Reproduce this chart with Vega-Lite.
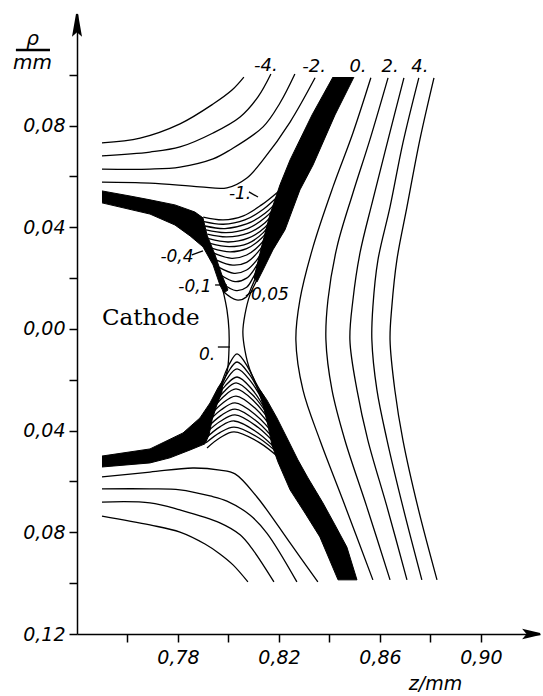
{
"$schema": "https://vega.github.io/schema/vega-lite/v6.json",
"width": 463, "height": 620,
"autosize": {"type": "none"},
"padding": {"left": 77, "top": 14, "right": 3, "bottom": 62},
"background": "white",
"config": {"view": {"stroke": null}},
"datasets": {
"bands": [
{"id":"b1","i":0,"z":0.7499,"rho":0.0543},{"id":"b1","i":1,"z":0.7610,"rho":0.0523},{"id":"b1","i":2,"z":0.7689,"rho":0.0508},{"id":"b1","i":3,"z":0.7788,"rho":0.0488},{"id":"b1","i":4,"z":0.7867,"rho":0.0460},{"id":"b1","i":5,"z":0.7899,"rho":0.0437},{"id":"b1","i":6,"z":0.7915,"rho":0.0370},{"id":"b1","i":7,"z":0.7947,"rho":0.0291},{"id":"b1","i":8,"z":0.7974,"rho":0.0212},{"id":"b1","i":9,"z":0.7998,"rho":0.0153},{"id":"b1","i":10,"z":0.7982,"rho":0.0142},{"id":"b1","i":11,"z":0.7966,"rho":0.0173},{"id":"b1","i":12,"z":0.7939,"rho":0.0252},{"id":"b1","i":13,"z":0.7899,"rho":0.0323},{"id":"b1","i":14,"z":0.7848,"rho":0.0366},{"id":"b1","i":15,"z":0.7788,"rho":0.0409},{"id":"b1","i":16,"z":0.7689,"rho":0.0452},{"id":"b1","i":17,"z":0.7499,"rho":0.0496},
{"id":"b2","i":0,"z":0.8414,"rho":0.0991},{"id":"b2","i":1,"z":0.8331,"rho":0.0842},{"id":"b2","i":2,"z":0.8244,"rho":0.0665},{"id":"b2","i":3,"z":0.8204,"rho":0.0567},{"id":"b2","i":4,"z":0.8164,"rho":0.0449},{"id":"b2","i":5,"z":0.8133,"rho":0.0331},{"id":"b2","i":6,"z":0.8101,"rho":0.0201},{"id":"b2","i":7,"z":0.8113,"rho":0.0185},{"id":"b2","i":8,"z":0.8137,"rho":0.0232},{"id":"b2","i":9,"z":0.8176,"rho":0.0311},{"id":"b2","i":10,"z":0.8224,"rho":0.0390},{"id":"b2","i":11,"z":0.8283,"rho":0.0547},{"id":"b2","i":12,"z":0.8335,"rho":0.0645},{"id":"b2","i":13,"z":0.8422,"rho":0.0842},{"id":"b2","i":14,"z":0.8497,"rho":0.0991},
{"id":"b3","i":0,"z":0.7499,"rho":-0.0500},{"id":"b3","i":1,"z":0.7689,"rho":-0.0472},{"id":"b3","i":2,"z":0.7820,"rho":-0.0409},{"id":"b3","i":3,"z":0.7887,"rho":-0.0350},{"id":"b3","i":4,"z":0.7927,"rho":-0.0291},{"id":"b3","i":5,"z":0.7958,"rho":-0.0232},{"id":"b3","i":6,"z":0.7978,"rho":-0.0201},{"id":"b3","i":7,"z":0.7974,"rho":-0.0248},{"id":"b3","i":8,"z":0.7954,"rho":-0.0299},{"id":"b3","i":9,"z":0.7935,"rho":-0.0358},{"id":"b3","i":10,"z":0.7923,"rho":-0.0417},{"id":"b3","i":11,"z":0.7907,"rho":-0.0452},{"id":"b3","i":12,"z":0.7848,"rho":-0.0476},{"id":"b3","i":13,"z":0.7768,"rho":-0.0507},{"id":"b3","i":14,"z":0.7689,"rho":-0.0527},{"id":"b3","i":15,"z":0.7499,"rho":-0.0543},
{"id":"b4","i":0,"z":0.8117,"rho":-0.0240},{"id":"b4","i":1,"z":0.8137,"rho":-0.0299},{"id":"b4","i":2,"z":0.8156,"rho":-0.0378},{"id":"b4","i":3,"z":0.8172,"rho":-0.0456},{"id":"b4","i":4,"z":0.8196,"rho":-0.0523},{"id":"b4","i":5,"z":0.8244,"rho":-0.0633},{"id":"b4","i":6,"z":0.8303,"rho":-0.0724},{"id":"b4","i":7,"z":0.8362,"rho":-0.0818},{"id":"b4","i":8,"z":0.8434,"rho":-0.0987},{"id":"b4","i":9,"z":0.8509,"rho":-0.0987},{"id":"b4","i":10,"z":0.8469,"rho":-0.0858},{"id":"b4","i":11,"z":0.8422,"rho":-0.0771},{"id":"b4","i":12,"z":0.8374,"rho":-0.0684},{"id":"b4","i":13,"z":0.8315,"rho":-0.0586},{"id":"b4","i":14,"z":0.8275,"rho":-0.0515},{"id":"b4","i":15,"z":0.8236,"rho":-0.0437},{"id":"b4","i":16,"z":0.8192,"rho":-0.0350},{"id":"b4","i":17,"z":0.8152,"rho":-0.0279},{"id":"b4","i":18,"z":0.8125,"rho":-0.0240}
],
"arrows": [
{"id":"a1","i":0,"z":0.7400,"rho":0.1239},{"id":"a1","i":1,"z":0.7414,"rho":0.1160},{"id":"a1","i":2,"z":0.7400,"rho":0.1172},{"id":"a1","i":3,"z":0.7386,"rho":0.1160},{"id":"a1","i":4,"z":0.7400,"rho":0.1239},
{"id":"a2","i":0,"z":0.9234,"rho":-0.1200},{"id":"a2","i":1,"z":0.9174,"rho":-0.1186},{"id":"a2","i":2,"z":0.9186,"rho":-0.1200},{"id":"a2","i":3,"z":0.9174,"rho":-0.1214},{"id":"a2","i":4,"z":0.9234,"rho":-0.1200}
],
"curves": [
{"id":"A","i":0,"z":0.7499,"rho":0.0732},{"id":"A","i":1,"z":0.7650,"rho":0.0751},{"id":"A","i":2,"z":0.7808,"rho":0.0807},{"id":"A","i":3,"z":0.7939,"rho":0.0885},{"id":"A","i":4,"z":0.8014,"rho":0.0940},{"id":"A","i":5,"z":0.8061,"rho":0.0991},
{"id":"B","i":0,"z":0.7499,"rho":0.0681},{"id":"B","i":1,"z":0.7689,"rho":0.0696},{"id":"B","i":2,"z":0.7808,"rho":0.0716},{"id":"B","i":3,"z":0.7939,"rho":0.0771},{"id":"B","i":4,"z":0.8046,"rho":0.0834},{"id":"B","i":5,"z":0.8117,"rho":0.0913},{"id":"B","i":6,"z":0.8168,"rho":0.1003},
{"id":"C","i":0,"z":0.7499,"rho":0.0629},{"id":"C","i":1,"z":0.7689,"rho":0.0629},{"id":"C","i":2,"z":0.7808,"rho":0.0637},{"id":"C","i":3,"z":0.7939,"rho":0.0669},{"id":"C","i":4,"z":0.8006,"rho":0.0704},{"id":"C","i":5,"z":0.8137,"rho":0.0795},{"id":"C","i":6,"z":0.8204,"rho":0.0889},{"id":"C","i":7,"z":0.8263,"rho":0.1003},
{"id":"D","i":0,"z":0.7499,"rho":0.0578},{"id":"D","i":1,"z":0.7689,"rho":0.0574},{"id":"D","i":2,"z":0.7887,"rho":0.0559},{"id":"D","i":3,"z":0.7994,"rho":0.0555},{"id":"D","i":4,"z":0.8073,"rho":0.0594},{"id":"D","i":5,"z":0.8137,"rho":0.0665},{"id":"D","i":6,"z":0.8244,"rho":0.0814},{"id":"D","i":7,"z":0.8343,"rho":0.0988},
{"id":"k0","i":0,"z":0.7900,"rho":0.0440},{"id":"k0","i":1,"z":0.7979,"rho":0.0429},{"id":"k0","i":2,"z":0.8059,"rho":0.0445},{"id":"k0","i":3,"z":0.8131,"rho":0.0488},{"id":"k0","i":4,"z":0.8197,"rho":0.0540},
{"id":"k1","i":0,"z":0.7903,"rho":0.0422},{"id":"k1","i":1,"z":0.7979,"rho":0.0412},{"id":"k1","i":2,"z":0.8065,"rho":0.0429},{"id":"k1","i":3,"z":0.8138,"rho":0.0471},{"id":"k1","i":4,"z":0.8201,"rho":0.0527},
{"id":"k2","i":0,"z":0.7907,"rho":0.0405},{"id":"k2","i":1,"z":0.7986,"rho":0.0395},{"id":"k2","i":2,"z":0.8072,"rho":0.0413},{"id":"k2","i":3,"z":0.8145,"rho":0.0455},{"id":"k2","i":4,"z":0.8201,"rho":0.0511},
{"id":"k3","i":0,"z":0.7911,"rho":0.0390},{"id":"k3","i":1,"z":0.7990,"rho":0.0379},{"id":"k3","i":2,"z":0.8078,"rho":0.0396},{"id":"k3","i":3,"z":0.8148,"rho":0.0440},{"id":"k3","i":4,"z":0.8199,"rho":0.0495},
{"id":"k4","i":0,"z":0.7916,"rho":0.0373},{"id":"k4","i":1,"z":0.7993,"rho":0.0362},{"id":"k4","i":2,"z":0.8078,"rho":0.0377},{"id":"k4","i":3,"z":0.8145,"rho":0.0418},{"id":"k4","i":4,"z":0.8193,"rho":0.0475},
{"id":"k5","i":0,"z":0.7922,"rho":0.0355},{"id":"k5","i":1,"z":0.7999,"rho":0.0342},{"id":"k5","i":2,"z":0.8078,"rho":0.0357},{"id":"k5","i":3,"z":0.8145,"rho":0.0400},{"id":"k5","i":4,"z":0.8185,"rho":0.0455},
{"id":"k6","i":0,"z":0.7927,"rho":0.0337},{"id":"k6","i":1,"z":0.8003,"rho":0.0324},{"id":"k6","i":2,"z":0.8078,"rho":0.0337},{"id":"k6","i":3,"z":0.8138,"rho":0.0379},{"id":"k6","i":4,"z":0.8177,"rho":0.0432},
{"id":"k7","i":0,"z":0.7933,"rho":0.0318},{"id":"k7","i":1,"z":0.8006,"rho":0.0303},{"id":"k7","i":2,"z":0.8072,"rho":0.0316},{"id":"k7","i":3,"z":0.8131,"rho":0.0357},{"id":"k7","i":4,"z":0.8168,"rho":0.0405},
{"id":"k8","i":0,"z":0.7942,"rho":0.0298},{"id":"k8","i":1,"z":0.8013,"rho":0.0278},{"id":"k8","i":2,"z":0.8072,"rho":0.0291},{"id":"k8","i":3,"z":0.8125,"rho":0.0331},{"id":"k8","i":4,"z":0.8158,"rho":0.0377},
{"id":"k9","i":0,"z":0.7953,"rho":0.0271},{"id":"k9","i":1,"z":0.8017,"rho":0.0251},{"id":"k9","i":2,"z":0.8072,"rho":0.0262},{"id":"k9","i":3,"z":0.8118,"rho":0.0304},{"id":"k9","i":4,"z":0.8147,"rho":0.0346},
{"id":"k10","i":0,"z":0.7961,"rho":0.0243},{"id":"k10","i":1,"z":0.8022,"rho":0.0219},{"id":"k10","i":2,"z":0.8072,"rho":0.0232},{"id":"k10","i":3,"z":0.8112,"rho":0.0271},{"id":"k10","i":4,"z":0.8136,"rho":0.0311},
{"id":"k11","i":0,"z":0.7969,"rho":0.0212},{"id":"k11","i":1,"z":0.8026,"rho":0.0186},{"id":"k11","i":2,"z":0.8072,"rho":0.0200},{"id":"k11","i":3,"z":0.8105,"rho":0.0239},{"id":"k11","i":4,"z":0.8125,"rho":0.0275},
{"id":"k12","i":0,"z":0.7974,"rho":0.0180},{"id":"k12","i":1,"z":0.8030,"rho":0.0151},{"id":"k12","i":2,"z":0.8072,"rho":0.0164},{"id":"k12","i":3,"z":0.8098,"rho":0.0203},{"id":"k12","i":4,"z":0.8116,"rho":0.0239},
{"id":"k13","i":0,"z":0.7979,"rho":0.0147},{"id":"k13","i":1,"z":0.8032,"rho":0.0114},{"id":"k13","i":2,"z":0.8072,"rho":0.0127},{"id":"k13","i":3,"z":0.8092,"rho":0.0166},{"id":"k13","i":4,"z":0.8108,"rho":0.0203},
{"id":"NL","i":0,"z":0.7978,"rho":0.0153},{"id":"NL","i":1,"z":0.7994,"rho":0.0075},{"id":"NL","i":2,"z":0.8002,"rho":-0.0004},{"id":"NL","i":3,"z":0.8002,"rho":-0.0083},{"id":"NL","i":4,"z":0.7994,"rho":-0.0169},{"id":"NL","i":5,"z":0.7966,"rho":-0.0232},
{"id":"NR","i":0,"z":0.8113,"rho":0.0193},{"id":"NR","i":1,"z":0.8085,"rho":0.0134},{"id":"NR","i":2,"z":0.8065,"rho":0.0055},{"id":"NR","i":3,"z":0.8057,"rho":-0.0012},{"id":"NR","i":4,"z":0.8065,"rho":-0.0083},{"id":"NR","i":5,"z":0.8085,"rho":-0.0161},{"id":"NR","i":6,"z":0.8117,"rho":-0.0228},{"id":"NR","i":7,"z":0.8141,"rho":-0.0267},
{"id":"j0","i":0,"z":0.7970,"rho":-0.0220},{"id":"j0","i":1,"z":0.8002,"rho":-0.0141},{"id":"j0","i":2,"z":0.8034,"rho":-0.0098},{"id":"j0","i":3,"z":0.8077,"rho":-0.0151},{"id":"j0","i":4,"z":0.8121,"rho":-0.0248},
{"id":"j1","i":0,"z":0.7962,"rho":-0.0248},{"id":"j1","i":1,"z":0.7998,"rho":-0.0171},{"id":"j1","i":2,"z":0.8034,"rho":-0.0130},{"id":"j1","i":3,"z":0.8083,"rho":-0.0179},{"id":"j1","i":4,"z":0.8133,"rho":-0.0271},
{"id":"j2","i":0,"z":0.7954,"rho":-0.0267},{"id":"j2","i":1,"z":0.7994,"rho":-0.0196},{"id":"j2","i":2,"z":0.8034,"rho":-0.0157},{"id":"j2","i":3,"z":0.8089,"rho":-0.0207},{"id":"j2","i":4,"z":0.8145,"rho":-0.0299},
{"id":"j3","i":0,"z":0.7942,"rho":-0.0287},{"id":"j3","i":1,"z":0.7988,"rho":-0.0223},{"id":"j3","i":2,"z":0.8034,"rho":-0.0189},{"id":"j3","i":3,"z":0.8093,"rho":-0.0237},{"id":"j3","i":4,"z":0.8152,"rho":-0.0327},
{"id":"j4","i":0,"z":0.7935,"rho":-0.0311},{"id":"j4","i":1,"z":0.7982,"rho":-0.0247},{"id":"j4","i":2,"z":0.8030,"rho":-0.0212},{"id":"j4","i":3,"z":0.8097,"rho":-0.0261},{"id":"j4","i":4,"z":0.8164,"rho":-0.0350},
{"id":"j5","i":0,"z":0.7927,"rho":-0.0330},{"id":"j5","i":1,"z":0.7978,"rho":-0.0269},{"id":"j5","i":2,"z":0.8030,"rho":-0.0236},{"id":"j5","i":3,"z":0.8103,"rho":-0.0286},{"id":"j5","i":4,"z":0.8176,"rho":-0.0378},
{"id":"j6","i":0,"z":0.7919,"rho":-0.0350},{"id":"j6","i":1,"z":0.7974,"rho":-0.0294},{"id":"j6","i":2,"z":0.8030,"rho":-0.0264},{"id":"j6","i":3,"z":0.8107,"rho":-0.0313},{"id":"j6","i":4,"z":0.8184,"rho":-0.0405},
{"id":"j7","i":0,"z":0.7915,"rho":-0.0370},{"id":"j7","i":1,"z":0.7970,"rho":-0.0319},{"id":"j7","i":2,"z":0.8026,"rho":-0.0291},{"id":"j7","i":3,"z":0.8109,"rho":-0.0339},{"id":"j7","i":4,"z":0.8192,"rho":-0.0429},
{"id":"j8","i":0,"z":0.7915,"rho":-0.0389},{"id":"j8","i":1,"z":0.7970,"rho":-0.0341},{"id":"j8","i":2,"z":0.8026,"rho":-0.0315},{"id":"j8","i":3,"z":0.8113,"rho":-0.0364},{"id":"j8","i":4,"z":0.8200,"rho":-0.0456},
{"id":"j9","i":0,"z":0.7911,"rho":-0.0409},{"id":"j9","i":1,"z":0.7968,"rho":-0.0363},{"id":"j9","i":2,"z":0.8026,"rho":-0.0338},{"id":"j9","i":3,"z":0.8117,"rho":-0.0387},{"id":"j9","i":4,"z":0.8208,"rho":-0.0476},
{"id":"j10","i":0,"z":0.7911,"rho":-0.0429},{"id":"j10","i":1,"z":0.7966,"rho":-0.0385},{"id":"j10","i":2,"z":0.8022,"rho":-0.0362},{"id":"j10","i":3,"z":0.8117,"rho":-0.0409},{"id":"j10","i":4,"z":0.8212,"rho":-0.0496},
{"id":"j11","i":0,"z":0.7911,"rho":-0.0448},{"id":"j11","i":1,"z":0.7966,"rho":-0.0408},{"id":"j11","i":2,"z":0.8022,"rho":-0.0386},{"id":"j11","i":3,"z":0.8119,"rho":-0.0428},{"id":"j11","i":4,"z":0.8216,"rho":-0.0507},
{"id":"j12","i":0,"z":0.7915,"rho":-0.0468},{"id":"j12","i":1,"z":0.7968,"rho":-0.0427},{"id":"j12","i":2,"z":0.8022,"rho":-0.0405},{"id":"j12","i":3,"z":0.8121,"rho":-0.0446},{"id":"j12","i":4,"z":0.8220,"rho":-0.0523},
{"id":"D2","i":0,"z":0.7499,"rho":-0.0582},{"id":"D2","i":1,"z":0.7689,"rho":-0.0563},{"id":"D2","i":2,"z":0.7859,"rho":-0.0547},{"id":"D2","i":3,"z":0.7966,"rho":-0.0555},{"id":"D2","i":4,"z":0.8026,"rho":-0.0570},{"id":"D2","i":5,"z":0.8113,"rho":-0.0661},{"id":"D2","i":6,"z":0.8244,"rho":-0.0842},{"id":"D2","i":7,"z":0.8354,"rho":-0.0995},
{"id":"C2","i":0,"z":0.7499,"rho":-0.0629},{"id":"C2","i":1,"z":0.7689,"rho":-0.0629},{"id":"C2","i":2,"z":0.7808,"rho":-0.0633},{"id":"C2","i":3,"z":0.7927,"rho":-0.0657},{"id":"C2","i":4,"z":0.7994,"rho":-0.0677},{"id":"C2","i":5,"z":0.8085,"rho":-0.0732},{"id":"C2","i":6,"z":0.8152,"rho":-0.0803},{"id":"C2","i":7,"z":0.8271,"rho":-0.0995},
{"id":"B2","i":0,"z":0.7499,"rho":-0.0681},{"id":"B2","i":1,"z":0.7689,"rho":-0.0684},{"id":"B2","i":2,"z":0.7808,"rho":-0.0712},{"id":"B2","i":3,"z":0.7966,"rho":-0.0763},{"id":"B2","i":4,"z":0.8046,"rho":-0.0810},{"id":"B2","i":5,"z":0.8097,"rho":-0.0869},{"id":"B2","i":6,"z":0.8180,"rho":-0.0995},
{"id":"A2","i":0,"z":0.7499,"rho":-0.0736},{"id":"A2","i":1,"z":0.7689,"rho":-0.0771},{"id":"A2","i":2,"z":0.7808,"rho":-0.0799},{"id":"A2","i":3,"z":0.7907,"rho":-0.0846},{"id":"A2","i":4,"z":0.7966,"rho":-0.0885},{"id":"A2","i":5,"z":0.8018,"rho":-0.0928},{"id":"A2","i":6,"z":0.8077,"rho":-0.0995},
{"id":"R1","i":0,"z":0.8564,"rho":0.0988},{"id":"R1","i":1,"z":0.8493,"rho":0.0771},{"id":"R1","i":2,"z":0.8414,"rho":0.0559},{"id":"R1","i":3,"z":0.8335,"rho":0.0323},{"id":"R1","i":4,"z":0.8283,"rho":0.0114},{"id":"R1","i":5,"z":0.8267,"rho":-0.0043},{"id":"R1","i":6,"z":0.8295,"rho":-0.0240},{"id":"R1","i":7,"z":0.8362,"rho":-0.0437},{"id":"R1","i":8,"z":0.8453,"rho":-0.0673},{"id":"R1","i":9,"z":0.8572,"rho":-0.0987},
{"id":"R2","i":0,"z":0.8632,"rho":0.0988},{"id":"R2","i":1,"z":0.8560,"rho":0.0744},{"id":"R2","i":2,"z":0.8493,"rho":0.0535},{"id":"R2","i":3,"z":0.8430,"rho":0.0323},{"id":"R2","i":4,"z":0.8394,"rho":0.0114},{"id":"R2","i":5,"z":0.8386,"rho":-0.0043},{"id":"R2","i":6,"z":0.8410,"rho":-0.0240},{"id":"R2","i":7,"z":0.8461,"rho":-0.0437},{"id":"R2","i":8,"z":0.8548,"rho":-0.0700},{"id":"R2","i":9,"z":0.8640,"rho":-0.0987},
{"id":"R3","i":0,"z":0.8695,"rho":0.0988},{"id":"R3","i":1,"z":0.8632,"rho":0.0744},{"id":"R3","i":2,"z":0.8572,"rho":0.0508},{"id":"R3","i":3,"z":0.8521,"rho":0.0299},{"id":"R3","i":4,"z":0.8493,"rho":0.0114},{"id":"R3","i":5,"z":0.8481,"rho":-0.0043},{"id":"R3","i":6,"z":0.8509,"rho":-0.0240},{"id":"R3","i":7,"z":0.8552,"rho":-0.0437},{"id":"R3","i":8,"z":0.8628,"rho":-0.0700},{"id":"R3","i":9,"z":0.8707,"rho":-0.0987},
{"id":"R4","i":0,"z":0.8754,"rho":0.0988},{"id":"R4","i":1,"z":0.8691,"rho":0.0732},{"id":"R4","i":2,"z":0.8640,"rho":0.0480},{"id":"R4","i":3,"z":0.8592,"rho":0.0271},{"id":"R4","i":4,"z":0.8572,"rho":0.0087},{"id":"R4","i":5,"z":0.8568,"rho":-0.0043},{"id":"R4","i":6,"z":0.8588,"rho":-0.0240},{"id":"R4","i":7,"z":0.8628,"rho":-0.0437},{"id":"R4","i":8,"z":0.8691,"rho":-0.0700},{"id":"R4","i":9,"z":0.8766,"rho":-0.0987},
{"id":"R5","i":0,"z":0.8814,"rho":0.0988},{"id":"R5","i":1,"z":0.8758,"rho":0.0744},{"id":"R5","i":2,"z":0.8707,"rho":0.0480},{"id":"R5","i":3,"z":0.8667,"rho":0.0271},{"id":"R5","i":4,"z":0.8647,"rho":0.0087},{"id":"R5","i":5,"z":0.8640,"rho":-0.0043},{"id":"R5","i":6,"z":0.8659,"rho":-0.0240},{"id":"R5","i":7,"z":0.8691,"rho":-0.0437},{"id":"R5","i":8,"z":0.8750,"rho":-0.0700},{"id":"R5","i":9,"z":0.8826,"rho":-0.0987}
],
"leaders": [
{"id":"L1","i":0,"z":0.8081,"rho":0.0539},{"id":"L1","i":1,"z":0.8117,"rho":0.0519},
{"id":"L2","i":0,"z":0.7855,"rho":0.0291},{"id":"L2","i":1,"z":0.7899,"rho":0.0307},
{"id":"L3","i":0,"z":0.7947,"rho":0.0173},{"id":"L3","i":1,"z":0.7994,"rho":0.0173},
{"id":"L4","i":0,"z":0.8069,"rho":0.0130},{"id":"L4","i":1,"z":0.8101,"rho":0.0153},
{"id":"L5","i":0,"z":0.7958,"rho":-0.0071},{"id":"L5","i":1,"z":0.8006,"rho":-0.0071}
],
"frac": [{"id":"f","i":0,"z":0.7158,"rho":0.1097},{"id":"f","i":1,"z":0.7293,"rho":0.1097}],
"toplabels": [
{"t":"-4.","z":0.8148,"rho":0.1015},{"t":"-2.","z":0.8339,"rho":0.1011},{"t":"0.","z":0.8513,"rho":0.1011},{"t":"2.","z":0.8640,"rho":0.1011},{"t":"4.","z":0.8758,"rho":0.1011}
],
"inlabels": [
{"t":"-1.","z":0.8046,"rho":0.0511},{"t":"-0,4","z":0.7796,"rho":0.0264},{"t":"-0,1","z":0.7867,"rho":0.0146},{"t":"0,05","z":0.8164,"rho":0.0114},{"t":"0.","z":0.7915,"rho":-0.0122}
],
"cathode": [{"t":"Cathode","z":0.7499,"rho":0.0016}]
},
"encoding": {
"x": {"field":"z","type":"quantitative","scale":{"domain":[0.74,0.9234],"nice":false,"zero":false},
 "axis":{"values":[0.76,0.78,0.8,0.82,0.84,0.86,0.88,0.9],
  "labelExpr":"round(datum.value*100) % 4 == 2 ? replace(format(datum.value,'.2f'),'.',',') : ''",
  "grid":false,"domainColor":"black","domainWidth":1.5,"tickColor":"black","tickWidth":1.5,"tickSize":8,
  "labelFont":"DejaVu Sans","labelFontStyle":"italic","labelFontSize":19,"labelColor":"black","labelPadding":6,"labelFlush":false,"labelOverlap":false,
  "title":"z/mm","titleX":358,"titleY":49,"titleAlign":"center","titleBaseline":"middle","titleFont":"DejaVu Sans","titleFontStyle":"italic","titleFontSize":19,"titleFontWeight":"normal","titleColor":"black"}},
"y": {"field":"rho","type":"quantitative","scale":{"domain":[-0.12,0.1239],"nice":false,"zero":false},
 "axis":{"values":[-0.12,-0.1,-0.08,-0.06,-0.04,-0.02,0,0.02,0.04,0.06,0.08,0.1],
  "labelExpr":"abs(round(datum.value*100)) % 4 == 0 ? replace(format(abs(datum.value),'.2f'),'.',',') : ''",
  "grid":false,"domainColor":"black","domainWidth":1.5,"tickColor":"black","tickWidth":1.5,"tickSize":8,
  "labelFont":"DejaVu Sans","labelFontStyle":"italic","labelFontSize":19,"labelColor":"black","labelPadding":4,"labelFlush":false,"labelOverlap":false,
  "title":["ρ","mm"],"titleAngle":0,"titleX":-45,"titleY":30,"titleAlign":"center","titleBaseline":"alphabetic","titleLineHeight":24,"titleFont":"DejaVu Sans","titleFontStyle":"italic","titleFontSize":20,"titleFontWeight":"normal","titleColor":"black"}}
},
"layer": [
{"data":{"name":"bands"},"mark":{"type":"line","fill":"black","stroke":"black","strokeWidth":1,"interpolate":"linear"},
 "encoding":{"detail":{"field":"id"},"order":{"field":"i","type":"quantitative"}}},
{"data":{"name":"curves"},"mark":{"type":"line","stroke":"black","strokeWidth":1.3,"interpolate":"catmull-rom"},
 "encoding":{"detail":{"field":"id"},"order":{"field":"i","type":"quantitative"}}},
{"data":{"name":"leaders"},"mark":{"type":"line","stroke":"black","strokeWidth":1.3},
 "encoding":{"detail":{"field":"id"},"order":{"field":"i","type":"quantitative"}}},
{"data":{"name":"frac"},"mark":{"type":"line","stroke":"black","strokeWidth":2.5},
 "encoding":{"detail":{"field":"id"},"order":{"field":"i","type":"quantitative"}}},
{"data":{"name":"toplabels"},"mark":{"type":"text","font":"DejaVu Sans","fontStyle":"italic","fontSize":18,"align":"center","baseline":"alphabetic","color":"black"},
 "encoding":{"text":{"field":"t"}}},
{"data":{"name":"inlabels"},"mark":{"type":"text","font":"DejaVu Sans","fontStyle":"italic","fontSize":17,"align":"center","baseline":"alphabetic","color":"black"},
 "encoding":{"text":{"field":"t"}}},
{"data":{"name":"cathode"},"mark":{"type":"text","font":"DejaVu Serif","fontSize":23,"align":"left","baseline":"alphabetic","color":"black"},
 "encoding":{"text":{"field":"t"}}},
{"data":{"name":"arrows"},"mark":{"type":"line","fill":"black","stroke":"black","strokeWidth":2,"interpolate":"linear"},
 "encoding":{"detail":{"field":"id"},"order":{"field":"i","type":"quantitative"}}}
]
}
